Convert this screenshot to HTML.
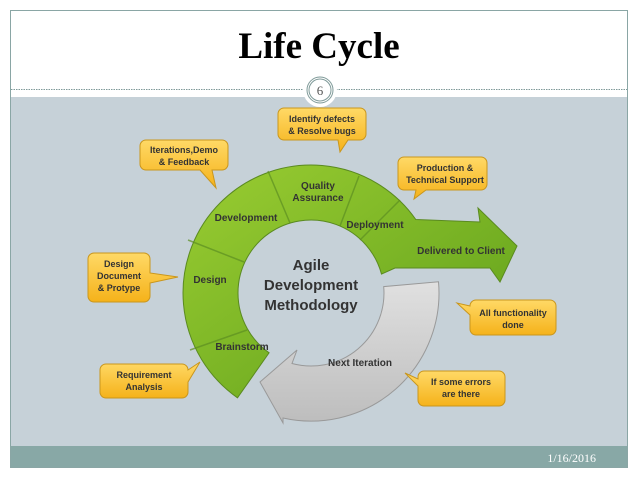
<!DOCTYPE html>
<html><head><style>
body{margin:0;width:638px;height:479px;background:#fff;overflow:hidden;font-family:"Liberation Sans",sans-serif}
</style></head><body>
<svg width="638" height="479" xmlns="http://www.w3.org/2000/svg" style="position:absolute;left:0;top:0">
<defs>
<linearGradient id="g" x1="0" y1="0" x2="1" y2="1"><stop offset="0" stop-color="#9acd32"/><stop offset="1" stop-color="#5e9e1a"/></linearGradient>
<linearGradient id="gr" x1="0" y1="0" x2="0" y2="1"><stop offset="0" stop-color="#e0e0e0"/><stop offset="1" stop-color="#bdbdbd"/></linearGradient>
<linearGradient id="y" x1="0" y1="0" x2="0" y2="1"><stop offset="0" stop-color="#ffd966"/><stop offset="1" stop-color="#f5b21a"/></linearGradient>
</defs>
<rect x="10.5" y="10.5" width="617" height="457" fill="#fff" stroke="#8aa6a5"/>
<rect x="11" y="97" width="616" height="349" fill="#c6d1d8"/>
<rect x="11" y="446" width="616" height="21" fill="#88a8a6"/>
<line x1="11" y1="89.5" x2="627" y2="89.5" stroke="#7f9a99" stroke-dasharray="1.5 1"/>
<circle cx="320" cy="90" r="17" fill="#fff"/>
<circle cx="320" cy="90" r="13" fill="#fff" stroke="#7f9a99"/>
<circle cx="320" cy="90" r="11" fill="none" stroke="#7f9a99"/>
<text x="320" y="95" font-family="Liberation Serif" font-size="13" fill="#555" text-anchor="middle">6</text>
<text x="319" y="58" font-family="Liberation Serif" font-size="37" font-weight="bold" text-anchor="middle">Life Cycle</text>
<text x="596" y="462" font-family="Liberation Serif" font-size="12" fill="#fff" text-anchor="end">1/16/2016</text>
<path d="M438.5 281.8 A128 128 0 0 1 283 418 L283 423 L260 382 L297 350 L292 363.5 A73 73 0 0 0 383.7 286.6 Z" fill="url(#gr)" stroke="#999"/>
<path d="M237.5 397.8 A128 128 0 1 1 415.8 219.5 L480 222 L478 208 L517 246 L500 282 L490 268 L395 268 L381.5 274.1 A73 73 0 1 0 269.1 352.8 Z" fill="url(#g)" stroke="#5a8a20"/>
<g stroke="#5d8f22" stroke-width="1.5" opacity=".7">
<line x1="190" y1="350" x2="247" y2="330"/>
<line x1="188" y1="240" x2="244" y2="262"/>
<line x1="268" y1="171" x2="290" y2="223"/>
<line x1="359" y1="176" x2="340" y2="226"/>
<line x1="400" y1="200" x2="360" y2="240"/>
</g>
<g font-size="10" font-weight="bold" fill="#333" text-anchor="middle">
<text x="242" y="350">Brainstorm</text>
<text x="210" y="283">Design</text>
<text x="246" y="221">Development</text>
<text x="318" y="189">Quality</text><text x="318" y="201">Assurance</text>
<text x="375" y="228">Deployment</text>
<text x="461" y="254">Delivered to Client</text>
<text x="360" y="366">Next Iteration</text>
</g>
<g font-size="15" font-weight="bold" fill="#333" text-anchor="middle">
<text x="311" y="270">Agile</text>
<text x="311" y="290">Development</text>
<text x="311" y="310">Methodology</text>
</g>
<g fill="url(#y)" stroke="#c9961d">
<path d="M284 108 h76 a6 6 0 0 1 6 6 v20 a6 6 0 0 1 -6 6 h-12 l-8 12 l-2 -12 h-54 a6 6 0 0 1 -6 -6 v-20 a6 6 0 0 1 6 -6z"/>
<path d="M146 140 h76 a6 6 0 0 1 6 6 v18 a6 6 0 0 1 -6 6 h-10 l4 18 l-16 -18 h-54 a6 6 0 0 1 -6 -6 v-18 a6 6 0 0 1 6 -6z"/>
<path d="M404 157 h77 a6 6 0 0 1 6 6 v21 a6 6 0 0 1 -6 6 h-55 l-12 9 l2 -9 h-12 a6 6 0 0 1 -6 -6 v-21 a6 6 0 0 1 6 -6z"/>
<path d="M94 253 h50 a6 6 0 0 1 6 6 v14 l28 4 l-28 6 v13 a6 6 0 0 1 -6 6 h-50 a6 6 0 0 1 -6 -6 v-37 a6 6 0 0 1 6 -6z"/>
<path d="M476 300 h74 a6 6 0 0 1 6 6 v23 a6 6 0 0 1 -6 6 h-74 a6 6 0 0 1 -6 -6 v-14 l-13 -12 l13 3 v0 a6 6 0 0 1 6 -6z"/>
<path d="M106 364 h76 a6 6 0 0 1 6 6 v0 l12 -8 l-12 20 v10 a6 6 0 0 1 -6 6 h-76 a6 6 0 0 1 -6 -6 v-22 a6 6 0 0 1 6 -6z"/>
<path d="M424 371 h75 a6 6 0 0 1 6 6 v23 a6 6 0 0 1 -6 6 h-75 a6 6 0 0 1 -6 -6 v-14 l-13 -13 l13 6 v-2 a6 6 0 0 1 6 -6z"/>
</g>
<g font-size="9" font-weight="bold" fill="#333" text-anchor="middle">
<text x="322" y="122">Identify defects</text><text x="322" y="134">&amp; Resolve bugs</text>
<text x="184" y="153">Iterations,Demo</text><text x="184" y="165">&amp; Feedback</text>
<text x="445" y="171">Production &amp;</text><text x="445" y="183">Technical Support</text>
<text x="119" y="267">Design</text><text x="119" y="279">Document</text><text x="119" y="291">&amp; Protype</text>
<text x="513" y="316">All functionality</text><text x="513" y="328">done</text>
<text x="144" y="378">Requirement</text><text x="144" y="390">Analysis</text>
<text x="461" y="385">If some errors</text><text x="461" y="397">are there</text>
</g>
</svg>
</body></html>
